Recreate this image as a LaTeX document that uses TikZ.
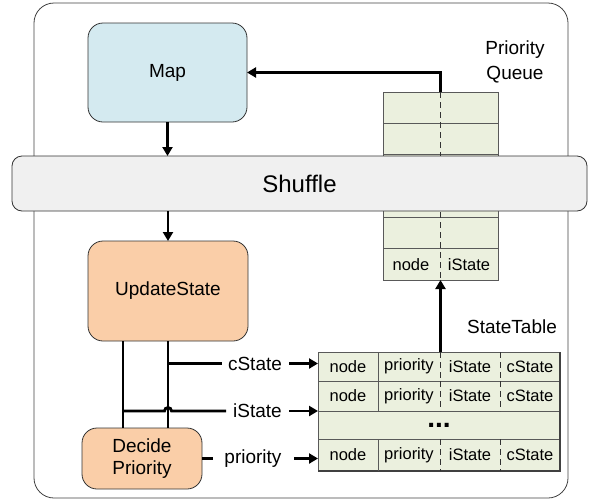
\documentclass[tikz,border=0pt]{standalone}
\usepackage{fontspec}
\setmainfont{Liberation Sans}
\usetikzlibrary{arrows.meta}
\definecolor{mapblue}{RGB}{212,234,240}
\definecolor{peach}{RGB}{250,206,168}
\definecolor{tablegreen}{RGB}{235,240,222}
\definecolor{shufflegray}{RGB}{240,240,240}
\begin{document}
\begin{tikzpicture}[x=1pt,y=-1pt,
  every node/.style={inner sep=0pt, outer sep=0pt},
  box/.style={draw=black!80, line width=0.8pt, rounded corners=15pt, font=\fontsize{19}{22}\selectfont, align=center},
  conn/.style={line width=2.8pt},
  arr/.style={conn, -{Triangle[length=9pt,width=10pt]}},
  qcell/.style={draw=black!65, line width=0.8pt, fill=tablegreen, minimum width=115pt, minimum height=31.333pt},
  tcell/.style={draw=black!65, line width=0.8pt, fill=tablegreen, minimum width=242pt},
  solid div/.style={draw=black!65, line width=0.8pt},
  dash div/.style={draw=black!80, line width=0.8pt, dash pattern=on 6pt off 4pt},
  small/.style={font=\fontsize{16.5}{18}\selectfont},
  lbl/.style={font=\fontsize{19}{22}\selectfont}
]
\useasboundingbox (0,0) rectangle (600,499);
% frame
\node[draw=black!75, line width=0.8pt, rounded corners=20pt, minimum width=534pt, minimum height=495pt] (frame) at (301,250.5) {};
% main boxes
\node[box, fill=mapblue, minimum width=159pt, minimum height=99pt] (map) at (167.5,72.5) {Map};
\node[box, fill=peach, minimum width=160pt, minimum height=100pt] (update) at (168,291) {UpdateState};
\node[box, fill=peach, minimum width=120pt, minimum height=61pt] (decide) at (142,458.5) {Decide\\Priority};
% priority queue
\foreach \i in {1,...,6}
  \node[qcell] (q\i) at (440.5,{92+31.333*\i-15.667}) {};
\draw[dash div] (q1.north) -- (q6.south);
\node[small] (qnode) at (411,265) {node};
\node[small] (qistate) at (469,265) {iState};
\node[lbl, align=center, font=\fontsize{19}{25}\selectfont] (pql) at (515,62) {Priority\\Queue};
% shuffle
\node[draw=black!80, line width=0.8pt, fill=shufflegray, rounded corners=10pt, minimum width=575pt, minimum height=55pt, font=\fontsize{24}{28}\selectfont] (shuffle) at (299.5,183.5) {Shuffle};
% arrows top
\draw[arr] (q1.north) |- (map.east);
\draw[arr] (map.south) -- (map.south |- shuffle.north);
\draw[arr] (update.north |- shuffle.south) -- (update.north);
% state table
\node[tcell, minimum height=29pt] (t1) at (439,366.5) {};
\node[tcell, minimum height=30pt] (t2) at (439,396) {};
\node[tcell, minimum height=28pt] (t3) at (439,425) {};
\node[tcell, minimum height=32pt] (t4) at (439,455) {};
\draw[black!75, line width=1.6pt] (t4.south west) -- (t4.south east) -- (t1.north east);
\foreach \r in {1,2,4} {
  \draw[solid div] ([xshift=-61pt]t\r.north) -- ([xshift=-61pt]t\r.south);
  \draw[dash div] ([xshift=1pt]t\r.north) -- ([xshift=1pt]t\r.south);
  \draw[dash div] ([xshift=61pt]t\r.north) -- ([xshift=61pt]t\r.south);
  \node[small] (tn\r) at ([xshift=-91pt]t\r.center) {node};
  \node[small] (tp\r) at ([xshift=-30pt]t\r.center) {priority};
  \node[small] (ti\r) at ([xshift=31pt]t\r.center) {iState};
  \node[small] (tc\r) at ([xshift=91pt]t\r.center) {cState};
}
\node[font=\fontsize{28}{30}\selectfont\bfseries] (dots) at (439,425) {...};
\node[lbl] (stl) at (512,327) {StateTable};
\draw[arr] (q6.south |- t1.north) -- (q6.south);
% left connectors
\draw[conn] ([xshift=-45pt]update.south) -- ([xshift=-45pt]update.south |- decide.north);
\draw[conn] (update.south) -- (update.south |- decide.north);
% cState
\coordinate (cs0) at (168,363.5);
\coordinate (cs1) at (222,363.5);
\coordinate (cs2) at (289,363.5);
\node[lbl] (lc) at (255,363.5) {cState};
\draw[conn] (cs0) -- (cs1);
\draw[arr] (cs2) -- (cs2 -| t1.west);
% iState
\coordinate (is0) at (123,411);
\coordinate (is1) at (226,411);
\coordinate (is2) at (289,411);
\node[lbl] (li) at (257.5,411) {iState};
\draw[conn] (is0) -- (164.5,411) arc[start angle=180, end angle=0, radius=3.5pt] -- (is1);
\draw[arr] (is2) -- (is2 -| t2.west);
% priority
\coordinate (pr1) at (213,458.5);
\coordinate (pr2) at (294,458.5);
\node[lbl] (lp) at (253,458.5) {priority};
\draw[conn] (decide.east) -- (pr1);
\draw[arr] (pr2) -- (pr2 -| t4.west);
\end{tikzpicture}
\end{document}
